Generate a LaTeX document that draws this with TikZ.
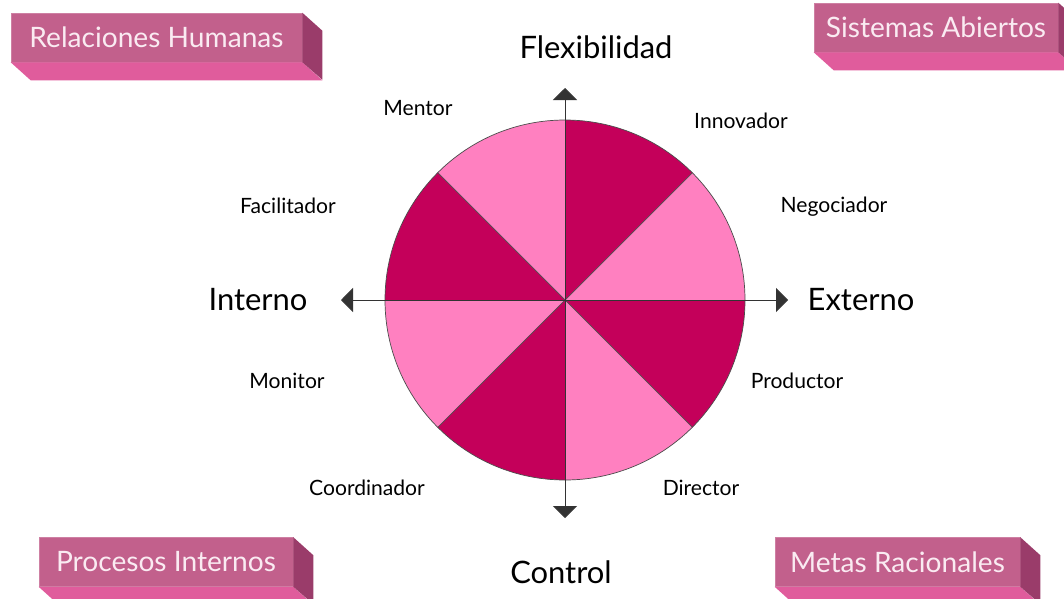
\documentclass[tikz,border=0pt]{standalone}
\usepackage{fontspec}
\setmainfont{Lato}
\usetikzlibrary{arrows.meta,calc}
\definecolor{D}{RGB}{196,0,90}
\definecolor{L}{RGB}{255,128,192}
\definecolor{F}{RGB}{194,96,140}
\definecolor{Bt}{RGB}{224,92,156}
\definecolor{S}{RGB}{154,60,106}
\definecolor{T}{RGB}{250,235,242}

\tikzset{
  caja/.style={fill=F, draw=F!80!white, minimum height=1.225cm, inner sep=0pt,
    text=T, font=\fontsize{20}{22}\selectfont},
  eje/.style={line width=0.6pt, black!80, -{Triangle[width=0.6cm,length=0.3cm]}},
  rol/.style={font=\fontsize{15}{17}\selectfont},
  polo/.style={font=\fontsize{22}{24}\selectfont}
}

\begin{document}
\begin{tikzpicture}[x=0.025cm,y=-0.025cm]
   	\useasboundingbox[fill=white] (0,0) rectangle (1064,598);

	%Centro del circulo
	\coordinate (O) at (565,300);

	%Sectores oscuros y claros
	\foreach \a/\c in {0/D,45/L,90/D,135/L,180/D,225/L,270/D,315/L}
		\fill[\c] (O) -- ++(\a:180) arc[start angle=\a, end angle=\a+45, radius=180] -- cycle;

	%Lineas diagonales
	\foreach \a in {45,135,225,315}
		\draw[black!70, line width=0.5pt] (O) -- ++(\a:180);
	\draw[black!70, line width=0.5pt] (O) circle (180);

	%Ejes
	\coordinate (arriba) at (565,88);
	\coordinate (abajo) at (565,518);
	\coordinate (izq) at (341,300);
	\coordinate (der) at (788,300);
	\draw[eje] (O) -- (arriba);
	\draw[eje] (O) -- (abajo);
	\draw[eje] (O) -- (izq);
	\draw[eje] (O) -- (der);

	%Polos
	\node[polo] (flex) at (596,47) {Flexibilidad};
	\node[polo] (control) at (561,572) {Control};
	\node[polo] (interno) at (258,300) {Interno};
	\node[polo] (externo) at (861,300) {Externo};

	%Roles
	\node[rol] (mentor) at (418,108) {Mentor};
	\node[rol] (innovador) at (741,121) {Innovador};
	\node[rol] (negociador) at (834,207) {Negociador};
	\node[rol] (facilitador) at (288,206) {Facilitador};
	\node[rol] (monitor) at (287,381) {Monitor};
	\node[rol] (productor) at (797,381) {Productor};
	\node[rol] (coordinador) at (367,488) {Coordinador};
	\node[rol] (director) at (701,488) {Director};

	%Cajas de los modelos
	\foreach \n/\x/\y/\w/\t in {rh/156.5/37.5/7.275/Relaciones Humanas,
	                            sa/936/27.5/6.1/Sistemas Abiertos,
	                            pi/166/562/6.35/Procesos Internos,
	                            mr/897.5/562/6.125/Metas Racionales}{
		\node[caja, minimum width=\w cm] (\n) at (\x,\y) {\t};
		\fill[Bt] (\n.south west) -- (\n.south east) -- ++(20,18) -- ($(\n.south west)+(20,18)$) -- cycle;
		\fill[S] (\n.north east) -- ++(20,18) -- ++(0,49) -- (\n.south east) -- cycle;
	}
\end{tikzpicture}
\end{document}
